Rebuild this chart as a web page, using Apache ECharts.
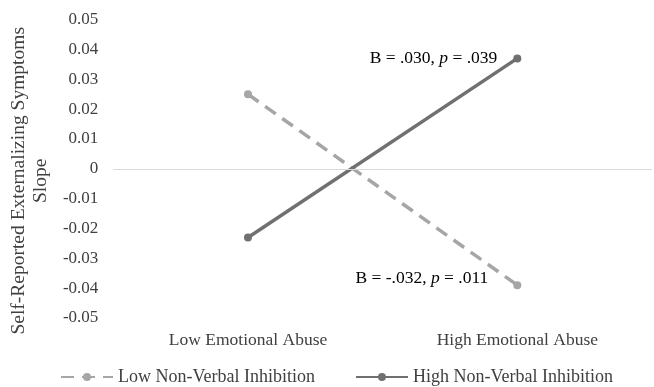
<!DOCTYPE html>
<html><head><meta charset="utf-8">
<script src="https://cdn.jsdelivr.net/npm/echarts@6/dist/echarts.min.js"></script>
<style>html,body{margin:0;padding:0;background:#fff}#c{width:654px;height:387px}</style>
</head><body><div id="c"></div>
<script>
var categories = ['Low Emotional Abuse', 'High Emotional Abuse'];
var lowNVI = [0.025, -0.039];
var highNVI = [-0.023, 0.037];
var seriesNames = ['Low Non-Verbal Inhibition', 'High Non-Verbal Inhibition'];
var yTicks = {min: -0.05, max: 0.05, interval: 0.01};
var noteHigh = ['B = .030, ', 'p', ' = .039'];
var noteLow = ['B = -.032, ', 'p', ' = .011'];

var font = 'Liberation Serif';
var txt = '#404040';
var fs = 17.5;
var chart = echarts.init(document.getElementById('c'));
function rich(parts){ return parts[0] + '{i|' + parts[1] + '}' + parts[2]; }
var richStyle = {i: {fontStyle: 'italic', fontFamily: font, fontSize: fs, color: '#000'}};
chart.setOption({
  animation: false,
  textStyle: {fontFamily: font},
  grid: {left: 112, right: 2, top: 18, bottom: 69},
  legend: {
    left: 60, top: 368, padding: 0, itemWidth: 52, itemHeight: 10, itemGap: 40,
    textStyle: {fontFamily: font, fontSize: 18, color: txt},
    data: seriesNames
  },
  xAxis: {
    type: 'category', data: categories,
    axisLine: {show: false, onZero: false}, axisTick: {show: false},
    axisLabel: {fontFamily: font, fontSize: fs, color: txt, margin: 13}
  },
  yAxis: {
    type: 'value', min: yTicks.min, max: yTicks.max, interval: yTicks.interval,
    name: 'Self-Reported Externalizing Symptoms\nSlope',
    nameLocation: 'middle', nameGap: 56, nameRotate: 90,
    nameTextStyle: {fontFamily: font, fontSize: 19.5, color: txt, lineHeight: 22, padding: [0, 24, 0, 0]},
    splitLine: {show: false}, axisLine: {show: false}, axisTick: {show: false},
    axisLabel: {fontFamily: font, fontSize: 17, color: txt, margin: 15,
      formatter: function(v){ return v === 0 ? '0' : v.toFixed(2); }}
  },
  series: [
    {
      name: seriesNames[0], type: 'line', data: lowNVI,
      symbol: 'circle', symbolSize: 8,
      lineStyle: {color: '#a6a6a6', width: 3.5, type: [13, 8]},
      itemStyle: {color: '#a6a6a6'},
      label: {show: true, fontFamily: font, fontSize: fs, color: '#000', rich: richStyle,
        position: 'left', distance: 25, offset: [0, -7],
        formatter: function(p){ return p.dataIndex === 1 ? rich(noteLow) : ''; }},
      markLine: {silent: true, symbol: 'none', label: {show: false},
        lineStyle: {color: '#d9d9d9', width: 1, type: 'solid'},
        data: [{yAxis: 0}]}
    },
    {
      name: seriesNames[1], type: 'line', data: highNVI,
      symbol: 'circle', symbolSize: 8,
      lineStyle: {color: '#707070', width: 3.5},
      itemStyle: {color: '#707070'},
      label: {show: true, fontFamily: font, fontSize: fs, color: '#000', rich: richStyle,
        position: 'left', distance: 16,
        formatter: function(p){ return p.dataIndex === 1 ? rich(noteHigh) : ''; }}
    }
  ]
});
</script></body></html>
